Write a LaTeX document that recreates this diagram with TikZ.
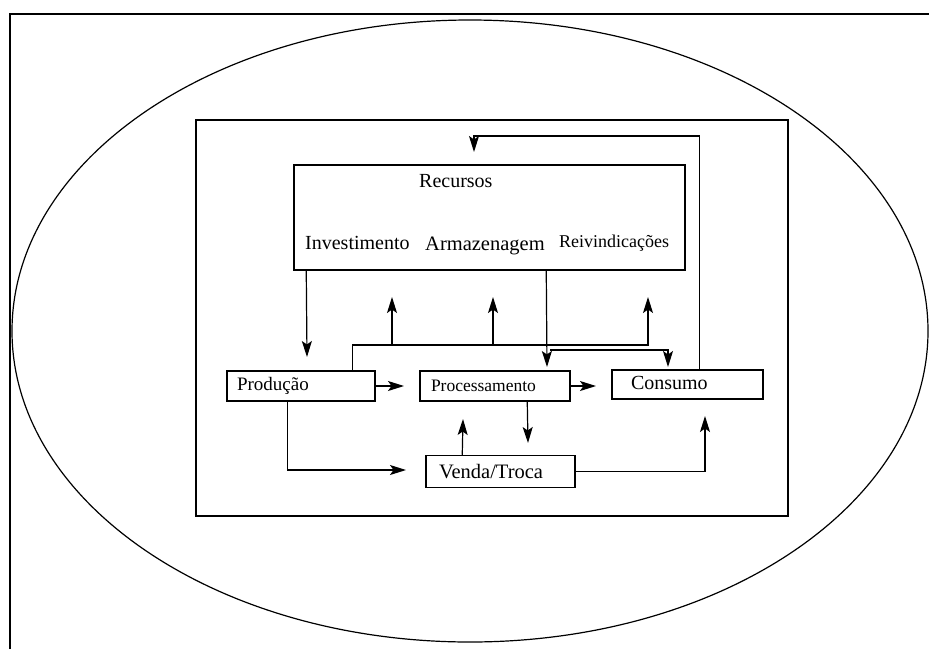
\documentclass[tikz,border=0pt]{standalone}
\usepackage{fontspec}
\setmainfont{Liberation Serif}
\usetikzlibrary{arrows.meta}
\begin{document}
\begin{tikzpicture}[x=1pt,y=-1pt,
  ln/.style={line width=1.5pt},
  arr/.style={line width=1.2pt,-{Stealth[length=16pt,width=10pt,inset=3.5pt]}},
  boxn/.style={draw,line width=1.5pt,rectangle,inner ysep=0pt,align=left},
  fs/.style={font=\fontsize{#1}{#1}\selectfont}]
\useasboundingbox (0,0) rectangle (929,649);
% outer frame and ellipse
\draw[ln] (10,649) -- (10,14) -- (929,14);
\draw[line width=1.2pt] (470,331) ellipse [x radius=458, y radius=311];
% inner rectangle
\draw[ln] (196,120) rectangle (788,516);
% Recursos box
\node[draw,line width=1.5pt,rectangle,minimum width=391pt,minimum height=105pt,inner sep=0pt] (rec) at (489.5,217.5) {};
\node[anchor=base west,inner sep=0pt,fs=20] (trec) at (419,187) {Recursos};
\node[anchor=base west,inner sep=0pt,fs=20] (tinv) at (305,249) {Investimento};
\node[anchor=base west,inner sep=0pt,fs=20.5] (tarm) at (425,250) {Armazenagem};
\node[anchor=base west,inner sep=0pt,fs=18] (trei) at (559,247) {Reivindicações};
% process boxes
\node[boxn,fs=19,inner xsep=10pt,text width=128pt,minimum height=30pt] (prod) at (301,386) {Produção};
\node[boxn,fs=17.5,inner xsep=11pt,text width=128pt,minimum height=30pt] (proc) at (495,386) {Processamento};
\node[boxn,fs=20,inner xsep=19pt,text width=113pt,minimum height=29pt] (cons) at (687.5,384.5) {\raisebox{4pt}{Consumo}};
\node[boxn,fs=20.5,inner xsep=13pt,text width=123pt,minimum height=32pt] (venda) at (500.5,471.5) {Venda/Troca};
% free ends
\coordinate (t1) at (307,357);
\coordinate (hl) at (0,345);
\coordinate (u1) at (392,297);
\coordinate (u2) at (493,297);
\coordinate (u3) at (648,297);
\coordinate (t3) at (547,367);
\coordinate (b1) at (550,350);
\coordinate (t4) at (668,367);
\coordinate (t5) at (404,386);
\coordinate (t6) at (596,386);
\coordinate (t7) at (528,443);
\coordinate (t8) at (463,419);
\coordinate (t9) at (406,470);
\coordinate (t10) at (705,416);
\coordinate (fb) at (474,136);
\coordinate (t11) at (474,152);
% connectors
\draw[arr] ([xshift=13pt]rec.south west) -- (t1);
\draw[arr] ([xshift=126pt]prod.north west) |- (hl -| u3) -- (u3);
\draw[arr] (hl -| u1) -- (u1);
\draw[arr] (hl -| u2) -- (u2);
\draw[arr] ([xshift=253pt]rec.south west) -- (t3);
\draw[arr] (b1) -| (t4);
\draw[arr] (prod.east) -- (t5);
\draw[arr] (proc.east) -- (t6);
\draw[arr] ([xshift=108pt]proc.south west) -- (t7);
\draw[arr] ([xshift=37pt]venda.north west) -- (t8);
\draw[arr] ([xshift=61pt]prod.south west) |- (t9);
\draw[arr] (venda.east) -| (t10);
\draw[arr] ([xshift=88pt]cons.north west) |- (fb) -- (t11);
\end{tikzpicture}
\end{document}
